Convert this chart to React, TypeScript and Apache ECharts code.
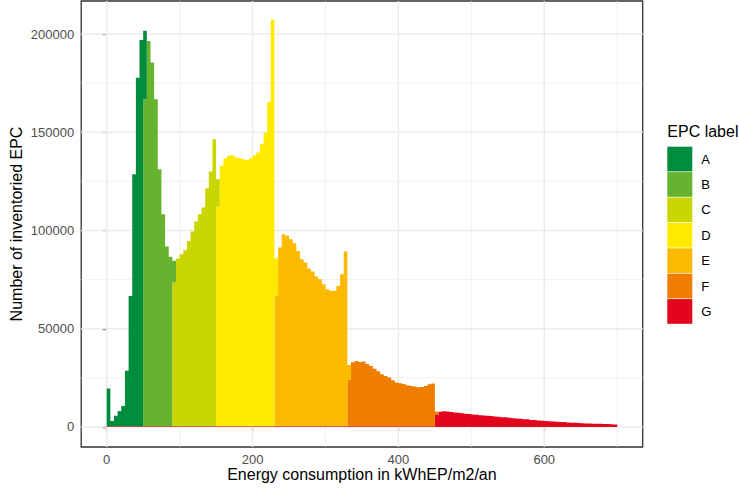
import React, { useEffect, useRef } from "react";
import * as echarts from "echarts";

// ---- data ----
const BIN_WIDTH = 5; // kWhEP/m2/an per histogram bin, bins start at 0
const NUM_BINS = 140;
const labels = ["A", "B", "C", "D", "E", "F", "G"];
const labelColors = ["#008C3D", "#65B32E", "#C9D600", "#FFEA00", "#FBB900", "#EF7D00", "#E3051B"];

const aStart = 0;
const aCounts = [19200, 2700, 5300, 7800, 10300, 28200, 66300, 128200, 177400, 196600, 34800];
const bStart = 10;
const bCounts = [166400, 196100, 185100, 166400, 130800, 107900, 91400, 86300, 11000];
const cStart = 18;
const cCounts = [73200, 85300, 87500, 89600, 94300, 99100, 104200, 107900, 111300, 121100, 129600, 146000, 13900];
const dStart = 30;
const dCounts = [111800, 132500, 136200, 137600, 137900, 136700, 136400, 135900, 135500, 136400, 137900, 139300, 143500, 149400, 165000, 207000, 18800];
const eStart = 46;
const eCounts = [66700, 90900, 97700, 96900, 95200, 93100, 89200, 85000, 83300, 80200, 78700, 76200, 74800, 72300, 69700, 68900, 68900, 71400, 77400, 88900, 7600];
const fStart = 66;
const fCounts = [23600, 32500, 33200, 32700, 32900, 31600, 30700, 29300, 28000, 26500, 25600, 24800, 23400, 22200, 21900, 21500, 20900, 20500, 20200, 19800, 20000, 20500, 21400, 21700, 1700];
const gStart = 0;
const gCounts = [
  400, 400, 400, 400, 400, 400, 400, 400, 400, 400,
  400, 400, 400, 400, 400, 400, 400, 400, 400, 400,
  400, 400, 400, 400, 400, 400, 400, 400, 400, 400,
  400, 400, 400, 400, 400, 400, 400, 400, 400, 400,
  400, 400, 400, 400, 400, 400, 400, 400, 400, 400,
  400, 400, 400, 400, 400, 400, 400, 400, 400, 400,
  400, 400, 400, 400, 400, 400, 400, 400, 400, 400,
  400, 400, 400, 400, 400, 400, 400, 400, 400, 400,
  400, 400, 400, 400, 400, 400, 400, 400, 400, 400,
  6100, 7800, 8000, 7900, 7600, 7400, 7200, 7000, 6800, 6600,
  6400, 6200, 6000, 5900, 5700, 5600, 5400, 5200, 5000, 4900,
  4700, 4500, 4300, 4200, 4000, 3900, 3600, 3500, 3300, 3200,
  3100, 2900, 2800, 2700, 2600, 2500, 2300, 2200, 2100, 2000,
  1900, 1800, 1800, 1700, 1600, 1600, 1500, 1500, 1400, 1300,
];

const xTicks = [0, 200, 400, 600];
const xMinor = [100, 300, 500, 700];
const yTicks = [0, 50000, 100000, 150000, 200000];
const yMinor = [25000, 75000, 125000, 175000];
const xRange = [-35, 735];
const yRange = [-10180, 216800];

const xTitle = "Energy consumption in kWhEP/m2/an";
const yTitle = "Number of inventoried EPC";
const legendTitle = "EPC label";

const FONT = "'Liberation Sans', Arial, Helvetica, sans-serif";

export default function App() {
  const ref = useRef<HTMLDivElement>(null);

  useEffect(() => {
    if (!ref.current) return;
    const chart = echarts.init(ref.current, undefined, { renderer: "svg" });

    // stacking order bottom -> top: G, F, E, D, C, B, A
    const groups = [
      { name: "G", start: gStart, counts: gCounts },
      { name: "F", start: fStart, counts: fCounts },
      { name: "E", start: eStart, counts: eCounts },
      { name: "D", start: dStart, counts: dCounts },
      { name: "C", start: cStart, counts: cCounts },
      { name: "B", start: bStart, counts: bCounts },
      { name: "A", start: aStart, counts: aCounts },
    ];
    const stackTop: number[] = [];
    for (let i = 0; i < NUM_BINS; i++) stackTop.push(0);

    const barSeries = groups.map((g) => {
      const color = labelColors[labels.indexOf(g.name)];
      const data = g.counts.map((c, i) => {
        const bin = g.start + i;
        const base = stackTop[bin];
        stackTop[bin] += c;
        return [bin * BIN_WIDTH, (bin + 1) * BIN_WIDTH, base, base + c];
      });
      return {
        type: "custom",
        name: g.name,
        z: 3,
        itemStyle: { color },
        encode: { x: [0, 1], y: [2, 3] },
        data,
        // the histogram bars of one label are drawn as one stepped polygon (no seams between bins)
        renderItem: (params: any, api: any) => {
          if (params.dataIndexInside !== 0) return null;
          const n = params.dataInsideLength;
          const top: number[][] = [];
          const bottom: number[][] = [];
          for (let k = 0; k < n; k++) {
            const x0 = api.value(0, k);
            const x1 = api.value(1, k);
            const b = api.value(2, k);
            const t = api.value(3, k);
            top.push(api.coord([x0, t]), api.coord([x1, t]));
            bottom.push(api.coord([x0, b]), api.coord([x1, b]));
          }
          const points = top.concat(bottom.reverse());
          return { type: "polygon", shape: { points }, style: { fill: color } };
        },
      };
    });

    const gridData: number[][] = [
      ...xMinor.map((v) => [v, 0, 0, 0]),
      ...yMinor.map((v) => [0, v, 1, 0]),
      ...xTicks.map((v) => [v, 0, 0, 1]),
      ...yTicks.map((v) => [0, v, 1, 1]),
    ];

    const gridSeries = {
      type: "custom",
      z: 1,
      silent: true,
      encode: { x: 0, y: 1 },
      data: gridData,
      renderItem: (params: any, api: any) => {
        const cs = params.coordSys;
        const orient = api.value(2);
        const major = api.value(3);
        const style = { stroke: "#EBEBEB", lineWidth: major ? 1.4 : 0.7 };
        if (orient === 0) {
          const p = api.coord([api.value(0), 0]);
          return { type: "line", shape: { x1: p[0], y1: cs.y, x2: p[0], y2: cs.y + cs.height }, style };
        }
        const p = api.coord([0, api.value(1)]);
        return { type: "line", shape: { x1: cs.x, y1: p[1], x2: cs.x + cs.width, y2: p[1] }, style };
      },
    };

    const axisCommon = {
      type: "value",
      axisLine: { show: false },
      splitLine: { show: false },
    };

    chart.setOption({
      animation: false,
      backgroundColor: "#FFFFFF",
      grid: {
        left: 81.2,
        right: 96.3,
        top: 1,
        bottom: 43,
        show: true,
        borderColor: "#333333",
        borderWidth: 1.3,
        backgroundColor: "#FFFFFF",
        containLabel: false,
      },
      xAxis: {
        ...axisCommon,
        min: xRange[0],
        max: xRange[1],
        axisTick: { show: true, length: 4, customValues: xTicks, lineStyle: { color: "#333333", width: 1.3 } },
        axisLabel: {
          customValues: xTicks,
          formatter: (v: number) => String(v),
          color: "#4D4D4D",
          fontSize: 13,
          fontFamily: FONT,
          margin: 5.5,
        },
      },
      yAxis: {
        ...axisCommon,
        min: yRange[0],
        max: yRange[1],
        axisTick: { show: true, length: 4, customValues: yTicks, lineStyle: { color: "#333333", width: 1.3 } },
        axisLabel: {
          customValues: yTicks,
          formatter: (v: number) => String(v),
          color: "#4D4D4D",
          fontSize: 13,
          fontFamily: FONT,
          margin: 7,
        },
      },
      legend: {
        data: labels,
        orient: "vertical",
        left: 667.3,
        top: 146.7,
        padding: 0,
        itemWidth: 25,
        itemHeight: 24.7,
        itemGap: 0.7,
        icon: "rect",
        selectedMode: false,
        textStyle: { fontSize: 13, color: "#000000", fontFamily: FONT, padding: [0, 0, 0, 4] },
      },
      graphic: [
        {
          type: "text",
          x: 361.9,
          y: 474.5,
          style: { text: xTitle, fontSize: 16, fontFamily: FONT, fill: "#000000", textAlign: "center", textVerticalAlign: "middle", align: "center", verticalAlign: "middle" },
        },
        {
          type: "text",
          x: 16,
          y: 224,
          rotation: Math.PI / 2,
          style: { text: yTitle, fontSize: 16, fontFamily: FONT, fill: "#000000", textAlign: "center", textVerticalAlign: "middle", align: "center", verticalAlign: "middle" },
        },
        {
          type: "text",
          x: 667.3,
          y: 131.7,
          style: { text: legendTitle, fontSize: 16, fontFamily: FONT, fill: "#000000", textAlign: "left", textVerticalAlign: "middle", align: "left", verticalAlign: "middle" },
        },
      ],
      series: [gridSeries, ...barSeries],
    });

    return () => chart.dispose();
  }, []);

  return <div ref={ref} style={{ position: "fixed", left: 0, top: 0, width: 739, height: 490 }} />;
}
